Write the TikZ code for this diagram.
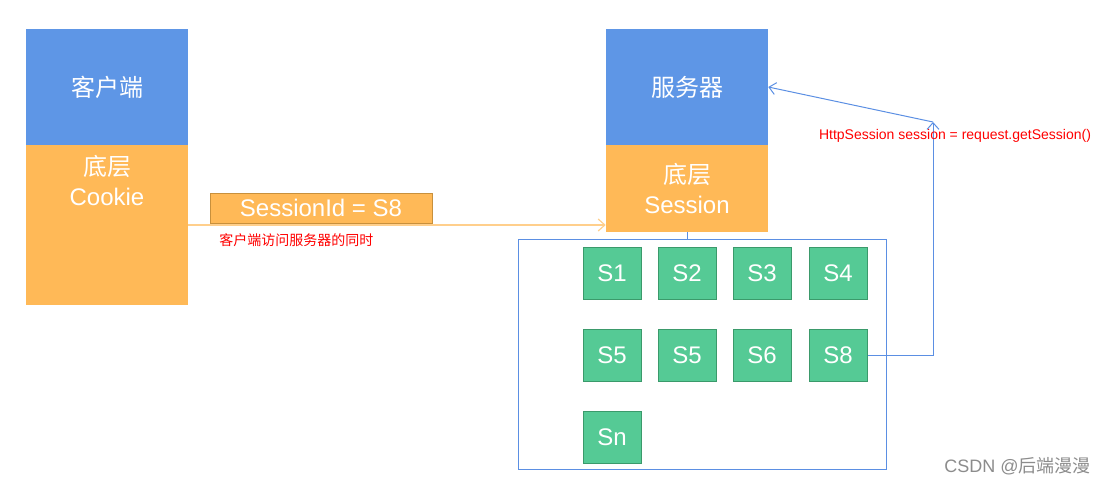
\documentclass[tikz,border=0pt]{standalone}
\usepackage{fontspec}
\setmainfont{Liberation Sans}
\newfontfamily\cjk{Noto Sans CJK SC}
\usetikzlibrary{arrows.meta}
\definecolor{boxblue}{HTML}{5E96E6}
\definecolor{boxorange}{HTML}{FFB957}
\definecolor{orangeline}{HTML}{C8903C}
\definecolor{sgreen}{HTML}{55CA95}
\definecolor{sgreenline}{HTML}{3B9A6B}
\definecolor{linkblue}{HTML}{5B8FE3}
\definecolor{arrorange}{HTML}{FFCF8C}
\begin{document}
\begin{tikzpicture}[x=0.75pt,y=-0.75pt,>={Straight Barb[length=5pt,width=9pt]},
  topbox/.style={fill=boxblue,minimum width=121.5pt,minimum height=87pt,inner sep=0pt,text=white,font=\cjk\fontsize{18}{22}\selectfont},
  lowbox/.style={fill=boxorange,minimum width=121.5pt,inner sep=0pt,text=white,align=center,font=\fontsize{18}{22}\selectfont},
  sessbox/.style={fill=sgreen,draw=sgreenline,line width=0.75pt,minimum width=43.5pt,minimum height=39pt,inner sep=0pt,text=white,font=\fontsize{18}{22}\selectfont},
  note/.style={text=red,inner sep=0pt,font=\fontsize{10.5}{12}\selectfont}]
\useasboundingbox (0,0) rectangle (1106,485);
% client
\node[topbox] (cliTop) at (107,87) {客户端};
\node[lowbox,minimum height=120pt] (cliBot) at (107,225) {};
\node[lowbox,anchor=north] (cliTxt) at ([yshift=-8pt]cliBot.north) {{\cjk 底层}\\Cookie};
% server
\node[topbox] (srvTop) at (687,87) {服务器};
\node[lowbox,minimum height=65.25pt] (srvBot) at (687,188.5) {{\cjk 底层}\\Session};
% session id
\node[fill=boxorange,draw=orangeline,line width=0.75pt,minimum width=166.5pt,minimum height=22.5pt,inner sep=0pt,text=white,font=\fontsize{18}{22}\selectfont] (sid) at (321,208) {SessionId = S8};
\draw[->,arrorange,line width=0.9pt] (cliBot.east) -- (cliBot.east -| srvBot.west);
\node[note,anchor=west,font=\cjk\fontsize{10.5}{12}\selectfont] (visitNote) at (219,240) {客户端访问服务器的同时};
% session pool
\node[draw=linkblue,line width=0.75pt,minimum width=276pt,minimum height=172.5pt,inner sep=0pt] (pool) at (702,354) {};
\draw[linkblue,line width=0.75pt] (srvBot.south) -- (srvBot.south |- pool.north);
\node[sessbox] (sess1) at (612,273) {S1};
\node[sessbox] (sess2) at (687,273) {S2};
\node[sessbox] (sess3) at (762,273) {S3};
\node[sessbox] (sess4) at (838,273) {S4};
\node[sessbox] (sess5) at (612,355) {S5};
\node[sessbox] (sess6) at (687,355) {S5};
\node[sessbox] (sess7) at (762,355) {S6};
\node[sessbox] (sess8) at (838,355) {S8};
\node[sessbox] (sessN) at (612,437) {Sn};
% getSession
\coordinate (bend) at (933,122);
\draw[->,linkblue,line width=0.75pt] (sess8.east) -| (bend);
\draw[->,linkblue,line width=0.75pt] (bend) -- (srvTop.east);
\node[note] (getNote) at (955,136) {HttpSession session = request.getSession()};
\node[anchor=east,text=gray!90,inner sep=0pt,font=\fontsize{13.5}{16}\selectfont] (mark) at (1091,466) {CSDN @{\cjk 后端漫漫}};
\end{tikzpicture}
\end{document}
